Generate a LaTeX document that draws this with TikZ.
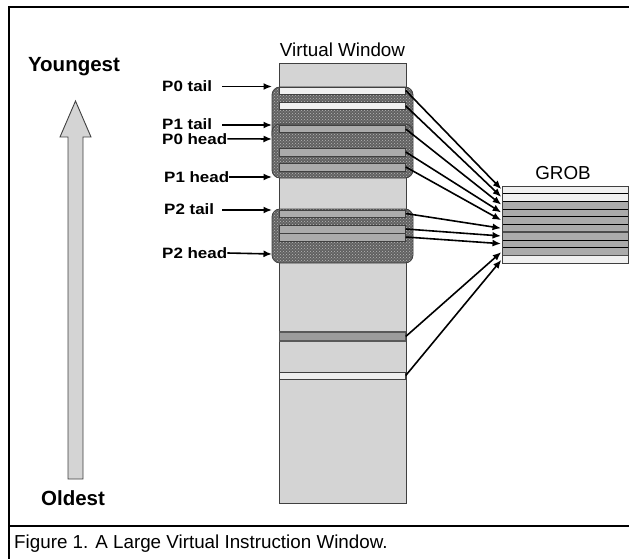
\documentclass[tikz,border=0pt]{standalone}
\usepackage{fontspec}
\setmainfont{Liberation Sans}
\usetikzlibrary{arrows.meta,patterns}
\definecolor{colfill}{HTML}{D4D4D4}
\definecolor{lightbar}{HTML}{F0F0F0}
\definecolor{graybar}{HTML}{ABABAB}
\definecolor{darkbar}{HTML}{9C9C9C}
\definecolor{edge}{HTML}{404040}
\newcommand{\widelbl}[1]{\scalebox{1.13}[1]{#1}}
\begin{document}
\begin{tikzpicture}[x=1pt,y=-1pt,
  lbl/.style={font=\bfseries\fontsize{15}{17}\selectfont, anchor=west, inner sep=0pt},
  big/.style={font=\bfseries\fontsize{20.5}{23}\selectfont, anchor=base, inner sep=0pt},
  title/.style={font=\fontsize{18.8}{21}\selectfont, inner sep=0pt},
  ptr/.style={-{Latex[length=8.5pt,width=7pt]}, line width=1.6pt},
  barbox/.style={draw=edge, line width=0.8pt, minimum width=126.5pt, inner sep=0pt, outer sep=0pt},
  grobrow/.style={draw=black, line width=0.7pt, minimum width=126pt, minimum height=7.7pt, inner sep=0pt, outer sep=0pt},
  group/.style={draw=edge, line width=0.8pt, rounded corners=8pt,
    preaction={fill=black!62}, pattern=crosshatch dots, pattern color=black!28},
  frameline/.style={line width=2pt}
]
\useasboundingbox (0,0) rectangle (629,559);
% frame
\draw[frameline] (629,7) -- (9,7) -- (9,559);
\draw[frameline] (9,526) -- (629,526);
\node[title, anchor=west] (cap) at (14,544) {Figure 1. A Large Virtual Instruction Window.};

% big arrow
\draw[fill=colfill, draw=edge, line width=0.9pt] (75.5,101) -- (91,137) -- (83,137) -- (83,479) -- (68,479) -- (68,137) -- (60,137) -- cycle;
\node[big] (young) at (74,72) {Youngest};
\node[big] (old) at (73,505) {Oldest};

% virtual window column
\node[title] (vwt) at (342.5,50) {Virtual Window};
\draw[fill=colfill, draw=edge, line width=0.8pt] (279,63) rectangle (406,503);

% groups
\path[group] (272,87) rectangle (413,143);
\path[group] (272,124) rectangle (413,178);
\path[group] (272,209) rectangle (413,263);

% bars
\node[barbox, fill=lightbar, minimum height=7pt] (b1) at (342.5,90.5) {};
\node[barbox, fill=lightbar, minimum height=6.5pt] (b2) at (342.5,106) {};
\node[barbox, fill=graybar, minimum height=6.5pt] (b3) at (342.5,129) {};
\node[barbox, fill=graybar, minimum height=8pt] (b4) at (342.5,152) {};
\node[barbox, fill=graybar, minimum height=8pt] (b5) at (342.5,167) {};
\node[barbox, fill=graybar, minimum height=7pt] (b6) at (342.5,213.5) {};
\node[barbox, fill=graybar, minimum height=8pt] (b7) at (342.5,229) {};
\node[barbox, fill=graybar, minimum height=8pt] (b8) at (342.5,237) {};
\node[barbox, fill=darkbar, draw=black!65, line width=1.2pt, minimum height=9pt] (b9) at (342.5,336.5) {};
\node[barbox, fill=lightbar, minimum height=7pt] (b10) at (342.5,375.5) {};

% GROB
\node[title] (grobt) at (563,173) {GROB};
\foreach \i/\c in {1/lightbar,2/lightbar,3/graybar,4/graybar,5/graybar,6/graybar,7/graybar,8/graybar,9/graybar,10/lightbar}{
  \node[grobrow, fill=\c] (g\i) at (565,{186+7.7*(\i-0.5)}) {};
}
\draw[line width=1.6pt, black!70] (g6.south west) -- (g6.south east);
\draw[line width=1.6pt, black!70] (g9.south west) -- (g9.south east);
\draw[line width=0.8pt, edge] (g1.north west) rectangle (g10.south east);

% arrows column -> GROB
\foreach \i in {1,...,10}{
  \draw[ptr, shorten >=1pt] (b\i.east) -- (g\i.west);
}

% left labels
\node[lbl] (p0t) at (162,86.5) {\widelbl{P0 tail}};
\node[lbl] (p1t) at (162,124) {\widelbl{P1 tail}};
\node[lbl] (p0h) at (162,138.8) {\widelbl{P0 head}};
\node[lbl] (p1h) at (164,177) {\widelbl{P1 head}};
\node[lbl] (p2t) at (164,209) {\widelbl{P2 tail}};
\node[lbl] (p2h) at (162,253) {\widelbl{P2 head}};
\coordinate (s0t) at (222,86.5);
\coordinate (s1t) at (222,125);
\coordinate (s2t) at (222,210);
\coordinate (e0t) at (272,86.5);
\coordinate (e1t) at (272,125);
\coordinate (e0h) at (272,139);
\coordinate (e1h) at (272,177);
\coordinate (e2t) at (272,210);
\coordinate (e2h) at (272,254);
\draw[ptr] (s0t) -- (e0t);
\draw[ptr] (s1t) -- (e1t);
\draw[ptr] (p0h.east) -- (e0h);
\draw[ptr] (p1h.east) -- (e1h);
\draw[ptr] (s2t) -- (e2t);
\draw[ptr] (p2h.east) -- (e2h);
\end{tikzpicture}
\end{document}
